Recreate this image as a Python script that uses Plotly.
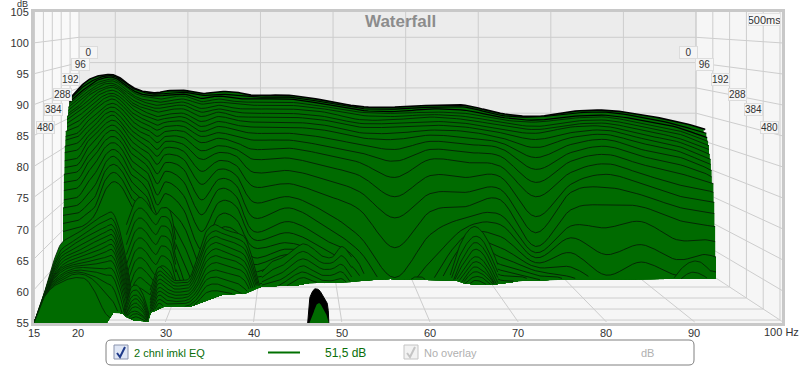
import numpy as np
import plotly.graph_objects as go

FONT = "Liberation Sans"
GREEN = "#006b00"
EDGE = "#052805"

# Waterfall slices, read column by column: level in dB of each slice (back to front) at one frequency
column_hz = [20, 21, 22, 23, 24, 25, 26, 27, 28, 29, 30, 32, 34, 36, 38, 40, 44, 48, 52, 56, 60, 64, 68, 72, 76, 80, 84, 88, 91]
db_20 = [92.6,92.3,91.8,91.3,91,90.5,89.8,89.4,88.9,88.2,87.4,86.6,85.6,85,84,82.9,81.6,80.5,79.4,78.1,76.8,75.3,74,72.7,71.5,70.3]
db_21 = [93.9,93.4,92.9,92.6,92.1,91.8,91.3,90.6,90,89.4,88.7,88.1,87.3,86.5,85.6,84.8,84,82.9,81.6,80.5,79,77.4,75.6,73.9,72.6,71]
db_22 = [94.6,94.2,93.9,93.5,93.1,92.7,92.3,91.8,91.3,90.6,90,89.4,88.5,87.7,86.9,86.1,85.3,84.4,83.2,82.1,80.8,79.2,77.3,75.5,73.9,72.6]
db_23 = [94.9,94.7,94.4,94,93.7,93.4,92.9,92.6,92.1,91.6,91.1,90.5,89.8,89.2,88.5,87.7,86.9,86.1,85.2,84.2,83.1,81.8,80.5,79.2,77.7,76.1]
db_24 = [94.9,94.7,94.5,94.2,93.9,93.5,93.2,92.9,92.4,91.9,91.5,91,90.3,89.7,89,88.4,87.6,86.8,86,85,84,82.9,81.8,80.5,79.2,77.7]
db_25 = [94.2,94,93.7,93.4,93.1,92.7,92.4,92.1,91.6,91.1,90.6,90,89.4,88.7,87.9,87.1,86.5,85.6,84.8,83.9,82.9,81.8,80.5,79.4,78.1,76.8]
db_26 = [93.1,92.9,92.6,92.3,91.9,91.6,91.1,90.6,90.2,89.7,89,88.4,87.7,86.9,86.1,85.3,84.4,83.4,82.4,81.3,80.2,79,77.9,76.6,75.3,74]
db_27 = [92.4,92.3,91.9,91.6,91.1,90.8,90.3,89.8,89.4,88.7,88.1,87.4,86.6,85.8,85,84.2,83.2,82.3,81.3,80.2,79,77.9,76.5,75.3,74,72.7]
db_28 = [92.1,91.9,91.6,91.3,90.8,90.3,89.8,89.4,88.7,88.1,87.4,86.8,86,85.2,84.2,83.2,82.3,81.1,80,78.9,77.6,76.1,74.8,73.4,71.9,70.3]
db_29 = [92,91.8,91.5,91,90.5,90,89.5,88.9,88.2,87.6,86.8,86,85,84,82.9,81.8,80.5,79,77.4,75.6,74,72.4,70.3,68.7,66.8,64.8]
db_30 = [92.3,91.9,91.6,91.1,90.6,90.2,89.7,89.2,88.5,87.9,87.3,86.6,85.8,85,84.2,83.2,82.1,80.8,79.4,77.7,75.8,73.5,72.4,70.8,68.9,66.8]
db_32 = [92.4,92.1,91.8,91.5,91,90.5,90,89.4,88.7,88.1,87.4,86.6,85.8,84.8,83.7,82.6,81.3,79.7,77.7,75.5,73.2,70.6,67.6,64.8,61.9,60.3]
db_34 = [91.9,91.6,91.1,90.6,90.2,89.5,88.9,88.2,87.4,86.6,85.8,85,84,82.7,81.3,79.4,77.3,74.8,72.4,69.7,66.8,64.4,61.9,59.5]
db_36 = [92.2,91.8,91.5,91,90.5,90,89.4,88.9,88.2,87.4,86.6,85.6,84.7,83.5,82.4,81.1,79.7,78.1,76.5,74.4,72.3,70,67.6,65.2,62.7,60.3]
db_38 = [92.1,91.6,91.1,90.6,90.2,89.5,88.9,88.2,87.6,86.8,86,85,84,82.9,81.8,80.3,78.7,77.1,75.3,73.7,71.6,69.7,67.6,65.5,63.5,61.1]
db_40 = [91.6,91.3,91,90.5,90,89.4,88.7,88.1,87.3,86.5,85.5,84.4,82.9,81.3,79.2,76.9,74.4,71.9,69.7,68.4,67.1,65.5,64.4,63.2,62.3,61.1]
db_44 = [91.6,91.3,91,90.5,90,89.4,88.7,88.1,87.3,86.5,85.5,84.4,83.1,81.5,79.5,77.4,75.3,73.5,71.3,69.5,67.9,66.9,66,64.8,63.5,62.3]
db_48 = [90.8,90.5,90.2,89.8,89.4,88.9,88.2,87.6,86.8,86,84.8,83.5,82.1,80.2,78.1,75.6,72.9,70.6,68.4,66.8,65.5,64.5,63.5,62.7,62.1,61.5]
db_52 = [89.8,89.5,89.2,88.9,88.4,87.7,87.1,86.5,85.6,84.8,83.7,82.4,80.8,78.7,76.1,73.2,68.9,66.5,64.4,62.6,60.3]
db_56 = [89.7,89.4,89,88.7,88.2,87.7,87.1,86.5,85.5,84.5,82.9,81,78.4,75.3,71.9,67.1,62.3,59.5]
db_60 = [90,89.7,89.4,88.9,88.5,88.1,87.4,86.8,86,85.2,84.2,82.9,81.3,78.7,75.8,72.9,69.2,64.8,61.1,58.7]
db_64 = [90,89.7,89.2,88.7,88.2,87.7,87.1,86.5,85.8,84.8,83.7,82.4,80.8,78.4,76,73.7,71.9,70.3,69,67.9,66.8,65.8,64.8,63.9,62.9,61.6]
db_68 = [88.7,88.4,88.1,87.7,87.3,86.8,86.1,85.6,84.8,84,83.1,81.8,80.2,78.5,76.5,74.8,72.4,70.8,68.9,67.1,65.6,64.4,63.5,62.7,61.9,61.1]
db_72 = [88.2,88.1,87.6,87.3,86.6,86.1,85.5,84.5,83.2,81.6,79.7,77.6,75.3,72.1,69.5,67.3,66.3,65.5,64.7,64,63.4,62.7,62.1,61.1,60.3,59.5]
db_76 = [89,88.7,88.2,87.9,87.4,86.9,86.5,85.6,84.8,83.7,82.4,81,79.2,77.3,76,73.2,70.6,68.7,66.3,64,62.4,61.1,60.3]
db_80 = [89.2,88.9,88.4,88.1,87.6,87.1,86.6,86,85.3,84.5,83.4,82.1,80.6,78.9,76.8,74,70.3,66,62.7,61.1,60.3]
db_84 = [88.5,88.1,87.6,87.1,86.6,86,85.3,84.7,83.9,82.9,81.8,80.5,79,77.4,75.6,73.7,71.3,67.6,64.8,61.9,60.3]
db_88 = [87.4,86.9,86.5,86,85.5,84.8,84.2,83.5,82.7,81.8,80.6,79.2,77.3,75.5,73.7,71.6,68.4,65.2,62.7,61.1,59.5]
db_91 = [86.3,85.6,85,84.5,83.9,83.2,82.6,81.8,81,80.2,79.2,77.9,76.5,74.8,72.9,70.8,68.4,66,63.5,61.1,59.5]
columns = [db_20,db_21,db_22,db_23,db_24,db_25,db_26,db_27,db_28,db_29,db_30,db_32,db_34,db_36,db_38,db_40,db_44,db_48,db_52,db_56,db_60,db_64,db_68,db_72,db_76,db_80,db_84,db_88,db_91]

# Where each slice meets the left and right silhouette
left_edge_hz = [19.2,19.1,19,19,18.9,18.9,18.9,18.75,18.75,18.75,18.75,18.6,18.6,18.6,18.5,18.5,18.5,18.5,18.4,18.4,18.4,18.4,18.3,18.3,18.3,18.3]
left_edge_db = [91.3,91,90.5,90.2,89.7,89.2,88.7,88.2,87.7,87.1,86.5,85.8,85,84.4,83.4,82.4,81.1,80,78.9,77.6,76.3,74.8,73.5,72.3,71,69.7]
right_edge_hz = [91.1,91.4,91.5,91.6,91.7,91.7,91.8,91.9,91.9,92,92,92.2,92.2,92.3,92.3,92.4,92.4,92.5,92.5,92.5]
right_edge_db = [86.1,85.5,84.8,84.2,83.5,82.9,82.1,81.3,80.5,79.5,78.5,77.4,76,74.4,72.6,70.5,68.1,65.6,63.2,60.8]

# Lower boundary of the surface
floor_hz = [15,23.3,23.6,24,25.1,25.3,26.5,28,28.2,29.9,31.6,32.7,33.9,36.7,39,40.7,45.2,46.4,50.3,54.9,57.7,62.3,63.2,64,66.8,69.1,70.2,78.2,92.5]
floor_db = [55,55,55.8,56.6,56.6,56.1,55.3,55.3,56.6,57.7,57.7,57.6,58.2,59.7,59.7,60.8,61.1,61.5,61.5,62.1,61.9,61.9,61.8,61.3,61.1,61.5,61.8,62.1,62.1]

# Late slices in front, low frequency hump
hump_hz = [15,16,17,18,19,20,21,22,23,24,25,26]
hump_rows = [
 [55,59,63.9,67.6,68.7,69.5,70.5,71.6,72.3,72.6,68.4,60.8],
 [55,58.9,63.4,66.6,67.7,68.7,69.7,70.6,71.3,71.6,67.4,60],
 [55,58.9,63.1,66,67.1,68.1,68.9,69.7,70.3,70.6,66.5,59.2],
 [55,58.9,62.7,65.5,66.5,67.3,68.1,68.9,69.5,69.8,65.5,58.4],
 [55,58.7,62.4,65,66,66.6,67.3,68.1,68.7,69,64.7,57.7],
 [55,58.7,62.1,64.5,65.5,66,66.6,67.3,67.9,68.2,63.9,57.1],
 [55,58.7,61.9,64,65,65.5,66,66.5,67.1,67.4,63.1,56.5],
 [55,58.7,61.8,63.7,64.5,65,65.3,65.8,66.3,66.6,62.3,55.8],
 [55,58.7,61.6,63.4,64.2,64.5,64.8,65.2,65.5,65.6,61.5,55],
 [55,58.7,61.5,63.1,63.9,64.2,64.4,64.5,64.7,64.7,60.5,54],
 [55,58.7,61.3,62.7,63.5,63.9,63.9,63.9,63.7,63.5,59.5,53],
 [55,58.7,61.1,62.4,63.2,63.5,63.4,63.2,62.7,62.3,58.2,52],
 [55,58.7,61,62.1,62.9,63.2,62.9,62.4,61.5,60.6,56.6,51],
 [55,58.7,60.8,61.8,62.6,62.9,62.6,61.6,60,58.4,55,50],
 [55,58.7,60.6,61.5,62.1,62.3,61.9,59.8,56.8,55,50,50],
]
peak27_hz = [25.2,25.7,26.1,26.6,27,27.5,28,28.3]
peak27_rows = [
 [56.8,59.4,60.8,61.1,60.6,59.2,56.8,55],
 [56.3,58.7,60,60.3,59.8,58.5,56.3,55],
 [56,58.1,59.2,59.5,59,57.9,56,55],
 [55.6,57.4,58.5,58.9,58.4,57.4,55.6,55],
 [55.5,57.1,57.9,58.2,57.7,56.9,55.5,55],
 [55.3,56.6,57.4,57.6,57.3,56.5,55.3,55],
 [55.2,56.3,56.8,56.9,56.6,56.1,55.2,55],
 [55.2,55.8,56.3,56.5,56.3,55.8,55.2,55],
 [55,55.5,55.8,56,55.8,55.5,55,55],
]
wiggle28_hz = [25.5,26.3,27,27.8,28.8,29.5,30.5,31.1]
wiggle28_rows = [
 [70.8,74,75.2,74.4,72.4,73.5,72.9,68.4],
 [69.2,72.4,73.5,72.7,70.8,72.1,71.3,66.8],
 [67.6,70.8,71.9,71.1,69.2,70.6,69.7,65.5],
 [66,69.2,70.3,69.5,67.6,69,68.1,64.4],
 [64.4,67.6,68.7,67.9,66,67.4,66.5,63.2],
 [62.7,66,67.1,66.3,64.4,65.8,64.8,61.9],
 [61.1,64.4,65.5,64.7,62.7,64.2,63.2,60.8],
 [59.5,62.7,63.9,63.1,61.5,62.6,61.6,59.5],
 [57.9,61.1,62.3,61.5,60.3,61,60.3,58.7],
 [56.6,59.5,60.6,59.8,59,59.4,59,57.9],
]
ridge35_hz = [28.2,29.1,30,30.9,31.8,32.7,33.6,34.5,35.5,36.4,37.3,38.2,39.1,40,40.9]
ridge35_rows = [
 [60.3,63.9,63.2,61.9,61.9,62.3,65.6,69.5,70.8,70.2,69.7,69.4,68.4,64.4,59.5],
 [59.5,63.2,62.6,61.5,61.5,61.8,64.8,68.5,69.8,69.4,68.9,68.5,67.4,63.5,59],
 [58.7,62.6,61.9,61,61,61.3,64,67.6,68.9,68.5,68.1,67.6,66.5,62.7,58.7],
 [58.2,61.9,61.3,60.5,60.5,60.8,63.2,66.6,67.9,67.6,67.1,66.6,65.5,61.9,58.7],
 [57.7,61.3,60.6,60,60,60.3,62.4,65.6,66.9,66.6,66.1,65.6,64.5,61.1,58.7],
 [57.3,60.6,60,59.5,59.5,59.8,61.6,64.7,65.8,65.5,65.2,64.7,63.5,60.3,58.7],
 [56.8,60,59.4,59,59,59.4,61,63.7,64.7,64.4,64,63.7,62.6,59.5,58.7],
 [56.3,59.4,58.7,58.5,58.5,58.9,60.3,62.7,63.5,63.2,62.9,62.6,61.5,58.7,58.7],
 [55.8,58.7,58.1,58.1,58.1,58.4,59.7,61.8,62.4,62.1,61.8,61.3,60.3,58.7,58.7],
 [55.3,58.1,57.4,57.6,57.6,57.9,59,60.8,61.3,61,60.6,60,59.4,58.7,58.7],
 [55,57.4,56.8,57.1,57.1,57.4,58.4,59.8,60.2,60,59.8,59.4,58.7,58.7,58.7],
]
peaks45_hz = [40.9,42,43.2,44.3,45.5,46.6,47.7,48.9,50,51.1]
peaks45_rows = [
 [63.2,64.8,65.5,66.5,67.7,67.1,65.8,65.6,67.3,65.6],
 [62.3,63.5,64.2,65.5,66.5,65.8,64.7,64.7,65.8,63.9],
 [61.6,62.4,63.1,64.4,65.3,64.7,63.7,63.7,64.4,62.4],
 [61.1,61.5,62.1,63.2,64.2,63.5,62.7,62.7,63.2,61.3],
 [60.6,60.6,61.3,62.4,63.2,62.6,61.9,61.8,62.1,60.6],
 [60.3,60.3,60.6,61.5,62.3,61.8,61.3,61.3,61,60.3],
]
peak65_hz = [62.3,63.2,64.1,65,65.9,66.8,67.7]
peak65_rows = [
 [62.7,66.8,69.4,70.5,69.7,67.6,64.4],
 [61.6,65.2,67.6,68.9,68.4,66.1,63.2],
 [60.3,63.9,66.3,67.9,67.3,65.2,62.3],
 [60.3,63.1,65.2,66.8,66.3,64.2,61.5],
 [60.3,62.3,64.2,65.6,65.2,63.4,60.8],
 [60.3,61.6,63.4,64.8,64.4,62.7,60.3],
 [60.3,60.8,62.6,64,63.5,62.3,60.3],
 [60.3,60.3,62.1,63.2,62.9,61.8,60.3],
 [60.3,60.3,61.5,62.4,62.3,61.3,60.3],
 [60.3,60.3,60.8,61.8,61.6,60.8,60.3],
]
peak58_hz = [57.5,58.1,58.7,59.2,59.8]
peak58_db = [61.5,62.3,62.4,62.3,61.5]
peak90_hz = [83.9,85.6,87.3,88.4,89.6,90.7,91.8]
peak90_rows = [
 [59.5,59.5,61.5,63.5,64.8,64.8,63.5],
 [59.5,59.5,59.5,61.9,63.1,62.9,61.9],
]
# Detached peak near 47 Hz
island_hz = [46.1,46.3,46.7,47,47.4,47.7,48.1,48.4,48.5]
island_outer_db = [55,58.7,60.2,60.5,60.3,59.7,58.9,57.6,55]
island_inner_hz = [46.3,46.7,47,47.4,47.7,48.1,48.4,48.5]
island_inner_db = [55,56.3,57.7,58.2,57.7,56.8,55.5,55]

x_ticks = [15, 20, 30, 40, 50, 60, 70, 80, 90]
y_ticks = [55, 60, 65, 70, 75, 80, 85, 90, 95, 100, 105]
time_ticks_ms = [0, 100, 200, 300, 400, 500]
slice_labels = ["0", "96", "192", "288", "384", "480"]

L, T, W, H = 34, 12, 748, 311
hz_of = lambda px: 15 + (np.asarray(px, float) - L) / W * 85
db_of = lambda py: 105 - (np.asarray(py, float) - T) / H * 50
pxx = lambda px: (px - L) / W
pxy = lambda py: 1 - (py - T) / H


def project(hz, db, t):
    """Wall/floor point at depth t (0 back, 1 front) to front-plane axis units."""
    left = 79 - 44.5 * t
    right = 696 + 84 * t
    px = left + (hz - 15) / 85 * (right - left)
    py_front = T + (105 - db) / 50 * H
    return float(hz_of(px)), float(db_of(T + (py_front - T) * (0.8135 + 0.177 * t)))


def smooth(x, y, n=8):
    x, y = np.array(x, float), np.array(y, float)
    xs, ys = [], []
    for i in range(len(x) - 1):
        i0, i3 = max(i - 1, 0), min(i + 2, len(x) - 1)
        for u in np.linspace(0, 1, n, endpoint=False):
            def cr(p):
                return 0.5 * (2 * p[i] + (p[i + 1] - p[i0]) * u
                              + (2 * p[i0] - 5 * p[i] + 4 * p[i + 1] - p[i3]) * u ** 2
                              + (3 * p[i] - p[i0] - 3 * p[i + 1] + p[i3]) * u ** 3)
            xs.append(cr(x)); ys.append(cr(y))
    xs.append(x[-1]); ys.append(y[-1])
    return np.array(xs), np.array(ys)


fig = go.Figure()


def add_slice(x, y, width=1.0, edge=EDGE):
    xs, ys = smooth(x, y)
    fl = np.interp(xs, floor_hz, floor_db)
    top = np.maximum(ys, fl)
    fig.add_trace(go.Scatter(x=np.r_[xs, xs[::-1]], y=np.r_[top, fl[::-1]], mode="lines", fill="toself",
                             fillcolor=GREEN, line=dict(width=0), hoverinfo="skip"))
    vis = np.where(ys >= fl, ys, np.nan)
    fig.add_trace(go.Scatter(x=xs, y=vis, mode="lines", line=dict(color=edge, width=width), hoverinfo="skip"))


# walls
def poly(points, color):
    path = "M" + " L".join(f"{pxx(a)},{pxy(b)}" for a, b in points) + " Z"
    return dict(type="path", xref="paper", yref="paper", path=path, fillcolor=color, line=dict(width=0), layer="below")


shapes = [
    poly([(34, 12), (79, 12), (79, 265), (34, 323)], "#f9f9f9"),
    poly([(79, 12), (696, 12), (696, 265), (79, 265)], "#ececec"),
    poly([(696, 12), (782, 12), (782, 323), (696, 265)], "#f6f6f6"),
    poly([(79, 265), (696, 265), (782, 323), (34, 323)], "#f6f6f6"),
]

# grid
gx, gy = [], []
T_END = 1.035
for d in y_ticks[1:-1]:
    for a in [project(15, d, T_END), project(15, d, 0), project(100, d, 0), project(100, d, T_END)]:
        gx.append(a[0]); gy.append(a[1])
    gx.append(None); gy.append(None)
for h in x_ticks[1:] + [100]:
    for a in [project(h, 105, 0), project(h, 55, 0), project(h, 55, T_END)]:
        gx.append(a[0]); gy.append(a[1])
    gx.append(None); gy.append(None)
for ms in time_ticks_ms:
    t = ms / 500
    for a in [project(15, 105, t), project(15, 55, t), project(100, 55, t), project(100, 105, t)]:
        gx.append(a[0]); gy.append(a[1])
    gx.append(None); gy.append(None)
fig.add_trace(go.Scatter(x=gx, y=gy, mode="lines", line=dict(color="#cdcdcd", width=1), hoverinfo="skip"))

# main slices, back to front
n_rows = 26
for i in range(n_rows):
    vals = [c[i] if i < len(c) else 50 for c in columns]
    rx = right_edge_hz[i] if i < len(right_edge_hz) else 92.5
    ry = right_edge_db[i] if i < len(right_edge_db) else 50
    add_slice([left_edge_hz[i]] + column_hz + [rx], [left_edge_db[i]] + vals + [ry],
              width=1.6 if i == 0 else (1.2 if i < 3 else 1.0), edge="#000000" if i < 3 else EDGE)

for r in wiggle28_rows:
    add_slice(wiggle28_hz, r, 0.9)
for r in ridge35_rows:
    add_slice(ridge35_hz, r, 0.9)
for r in peaks45_rows:
    add_slice(peaks45_hz, r, 0.9)
for r in peak65_rows:
    add_slice(peak65_hz, r, 0.9)
add_slice(peak58_hz, peak58_db, 0.9)
for r in peak90_rows:
    add_slice(peak90_hz, r, 0.9)
for r in hump_rows:
    add_slice(hump_hz, r, 0.9)
for r in peak27_rows:
    add_slice(peak27_hz, r, 0.9)

# detached peak
xs, ys = smooth(island_hz, island_outer_db)
fig.add_trace(go.Scatter(x=xs, y=ys, mode="lines", fill="toself", fillcolor="#000000", line=dict(color="#000", width=1), hoverinfo="skip"))
xs, ys = smooth(island_inner_hz, island_inner_db)
fig.add_trace(go.Scatter(x=xs, y=ys, mode="lines", fill="toself", fillcolor=GREEN, line=dict(width=0), hoverinfo="skip"))

# legend box
def rrect(x0, y0, x1, y1, r):
    a, b, c, d = pxx(x0), pxx(x1), pxy(y0), pxy(y1)
    rx, ry = r / W, r / H
    return (f"M{a+rx},{c} L{b-rx},{c} Q{b},{c} {b},{c-ry} L{b},{d+ry} Q{b},{d} {b-rx},{d} "
            f"L{a+rx},{d} Q{a},{d} {a},{d+ry} L{a},{c-ry} Q{a},{c} {a+rx},{c} Z")


def check(cx, cy, color, width):
    pts = [(cx - 4, cy), (cx - 1, cy + 4), (cx + 4, cy - 6)]
    return dict(type="path", xref="paper", yref="paper", layer="above",
                path="M" + " L".join(f"{pxx(a)},{pxy(b)}" for a, b in pts),
                line=dict(color=color, width=width))


def box(x0, y0, x1, y1, fill, line):
    return dict(type="rect", xref="paper", yref="paper", x0=pxx(x0), x1=pxx(x1), y0=pxy(y0), y1=pxy(y1),
                fillcolor=fill, line=dict(color=line, width=1), layer="above")


shapes += [
    dict(type="path", xref="paper", yref="paper", path=rrect(106, 340, 694, 365, 5), fillcolor="#ffffff",
         line=dict(color="#808080", width=1), layer="above"),
    box(114, 345, 128, 359, "#dfe6f5", "#8a93ad"),
    check(121, 353, "#1f3a8a", 2),
    dict(type="line", xref="paper", yref="paper", x0=pxx(268), x1=pxx(300), y0=pxy(352.5), y1=pxy(352.5),
         line=dict(color="#007000", width=2), layer="above"),
    box(404, 345, 418, 359, "#f2f2f2", "#c4c4c4"),
    check(411, 353, "#c4c4c4", 2),
]

ann = []


def text(px, py, s, size=11, color="#333333", anchor="center", bold=False, bg=None, border=None, w=None, h=None):
    d = dict(x=pxx(px), y=pxy(py), xref="paper", yref="paper", text=f"<b>{s}</b>" if bold else s, showarrow=False,
             xanchor=anchor, yanchor="middle", font=dict(family=FONT, size=size, color=color), borderpad=0)
    if bg:
        d.update(bgcolor=bg, bordercolor=border, borderwidth=1, width=w, height=h, align="left" if anchor == "left" else "center")
    ann.append(d)


text(400, 21, "Waterfall", 17, "#8c8c8c", bold=True)
text(22, 4.5, "dB", 9)
text(800, 332, "100 Hz", 11, anchor="right")
text(764, 20, "500ms", 11, bg="#f8f8f8", border="#e2e2e2", w=31, h=11)
left_label_pos = [(88, 52), (80, 65), (70, 79), (62, 94), (53, 110), (45, 127)]
right_label_pos = [(688, 52), (704, 65), (720, 79), (737, 94), (753, 110), (769, 127)]
for lab, (a, b), (c, d) in zip(slice_labels, left_label_pos, right_label_pos):
    text(a, b, lab, 10, bg="#f5f5f5", border="#dcdcdc", w=17, h=11)
    text(c, d, lab, 10, bg="#f5f5f5", border="#dcdcdc", w=17, h=11)
text(133, 353, "2 chnl imkl EQ", 11, "#0a6e0a", anchor="left")
text(345, 353, "51,5 dB", 12, "#0a6e0a")
text(423, 353, "No overlay", 11, "#b0b0b0", anchor="left")
text(647, 353, "dB", 11, "#b0b0b0")

fig.update_layout(
    width=800, height=367, margin=dict(l=L, r=800 - L - W, t=T, b=367 - T - H),
    paper_bgcolor="#ffffff", plot_bgcolor="rgba(0,0,0,0)", showlegend=False,
    shapes=shapes, annotations=ann,
    xaxis=dict(range=[15, 100], tickvals=x_ticks, ticktext=[str(v) for v in x_ticks], showgrid=False, zeroline=False,
               automargin=False, ticks="", ticklabelstandoff=-2,
               showline=True, linecolor="#c8c8c8", linewidth=3, mirror=True,
               tickfont=dict(family=FONT, size=11, color="#333333")),
    yaxis=dict(range=[55, 105], tickvals=y_ticks, showgrid=False, zeroline=False,
               automargin=False, ticks="",
               showline=True, linecolor="#c8c8c8", linewidth=3, mirror=True,
               tickfont=dict(family=FONT, size=11, color="#333333")),
)
fig.write_html("out.html", config={"displayModeBar": False}, post_script="document.body.style.margin='0';")
